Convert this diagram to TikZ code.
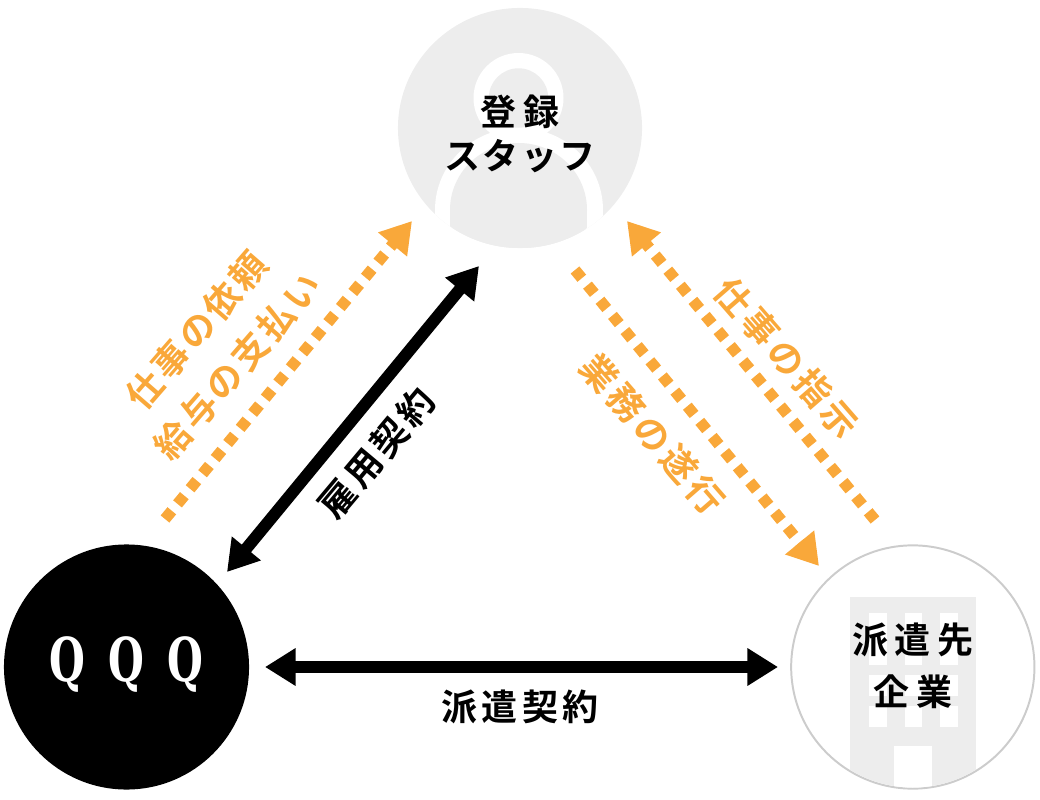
\documentclass[tikz,border=0pt]{standalone}
\usepackage{xcolor}
\usepackage{fontspec}
\usepackage{tikz}
\usetikzlibrary{arrows.meta, positioning, shapes.geometric}
\newfontfamily\jpbig[LetterSpace=18]{Noto Sans CJK JP Bold}
\newfontfamily\jpmid[LetterSpace=6]{Noto Sans CJK JP Bold}
\newfontfamily\jpwide[LetterSpace=12]{Noto Sans CJK JP Bold}
\newfontfamily\jpflow[LetterSpace=9]{Noto Sans CJK JP Bold}
\newfontfamily\qfont[FakeStretch=0.68]{DejaVu Serif Bold}
\definecolor{PaleGray}{HTML}{EDEDED}
\definecolor{RimGray}{HTML}{CCCCCC}
\definecolor{AccentOrange}{HTML}{F9A83A}

\begin{document}
\begin{tikzpicture}[
    x=0.025cm, y=-0.025cm,
    hub/.style={circle, inner sep=0pt, outer sep=0pt, minimum size=6.125cm},
    biglabel/.style={align=center, inner sep=0pt, font=\jpbig\fontsize{25.6}{31.3}\selectfont},
    flowlabel/.style={align=center, inner sep=0pt, text=AccentOrange, font=\jpwide\fontsize{25.6}{38.4}\selectfont},
    pactlabel/.style={inner sep=0pt, font=\jpwide\fontsize{25.6}{30}\selectfont},
    duty/.style={-{Triangle[length=21.7pt, width=25.3pt]}, line width=8pt, color=AccentOrange, dash pattern=on 7.6pt off 6.35pt},
    pact/.style={{Triangle[length=21.7pt, width=25.3pt]}-{Triangle[length=21.7pt, width=25.3pt]}, line width=8.5pt, color=black}
]
    \useasboundingbox (0,0) rectangle (1040,800);

    % Circles
    \node[ellipse, inner sep=0pt, outer sep=0pt, minimum width=6.1cm, minimum height=6cm, fill=PaleGray] (staff) at (520,128) {};
    \node[hub, fill=black] (qqq) at (126.5,667) {};
    \node[hub, draw=RimGray, line width=1.4pt, minimum size=6.08cm, right=13.55cm of qqq] (client) {};

    % Person icon
    \begin{scope}
        \clip (staff.center) ellipse[x radius=122, y radius=120];
        \fill[white] (518.5,98) circle[radius=45];
        \fill[white] (519,210) ellipse[x radius=84, y radius=82];
        \fill[white] (435,210) rectangle (603,260);
        \fill[PaleGray] (518.5,98) circle[radius=29.7];
        \fill[PaleGray] (518.5,210) ellipse[x radius=68.5, y radius=67];
        \fill[PaleGray] (450,210) -- (587,210) -- (587,260) -- (450,260) -- cycle;
    \end{scope}

    % Building icon
    \begin{scope}
        \clip (client.center) circle[radius=120.5];
        \fill[PaleGray] (850,597) rectangle (976,800);
        \foreach \wx in {869,904.5,940} {
            \fill[white] (\wx,613) rectangle (\wx+17.5,665);
            \fill[white] (\wx,675) rectangle (\wx+17.5,696);
            \fill[white] (\wx,706) rectangle (\wx+17.5,727);
        }
        \fill[white] (894,746) rectangle (932,800);
    \end{scope}

    % Names
    \node[biglabel] (staffname) at (520,134) {登録\\{\jpmid スタッフ}};
    \node[text=white, inner sep=0pt, font=\qfont\fontsize{43}{43}\selectfont] (qqqname) at (126.5,665) {Q\hspace{16.5pt}Q\hspace{16.5pt}Q};
    \node[biglabel, font=\jpbig\fontsize{25.6}{37}\selectfont] (clientname) at (913,666) {派遣先\\企業};

    % Free ends
    \coordinate (reqtail) at (165,519);
    \coordinate (reqtip) at (412,221);
    \coordinate (ordertail) at (875,520);
    \coordinate (ordertip) at (627,221);
    \coordinate (worktail) at (575,270);
    \coordinate (worktip) at (819,566);
    \coordinate (hiretip) at (479,266);
    \coordinate (hiretail) at (227,572);
    \coordinate (dispatchtail) at (265,667);
    \coordinate (dispatchtip) at (778,667);

    % Connections
    \draw[duty] (reqtail) -- (reqtip);
    \draw[duty] (ordertail) -- (ordertip);
    \draw[duty] (worktail) -- (worktip);
    \draw[pact] (hiretail) -- (hiretip);
    \draw[pact] (dispatchtail) -- (dispatchtip);

    % Labels
    \node[flowlabel, font=\jpflow\fontsize{25.6}{38.4}\selectfont, rotate=49] (reqlabel) at (217,348) {仕事の依頼\\給与の支払い};
    \node[flowlabel, rotate=-49] (orderlabel) at (787,358) {仕事の指示};
    \node[flowlabel, rotate=-49] (worklabel) at (653,434) {業務の遂行};
    \node[pactlabel, rotate=50] (hirelabel) at (377,453) {雇用契約};
    \node[pactlabel] (dispatchlabel) at (520,707) {派遣契約};
\end{tikzpicture}
\end{document}
